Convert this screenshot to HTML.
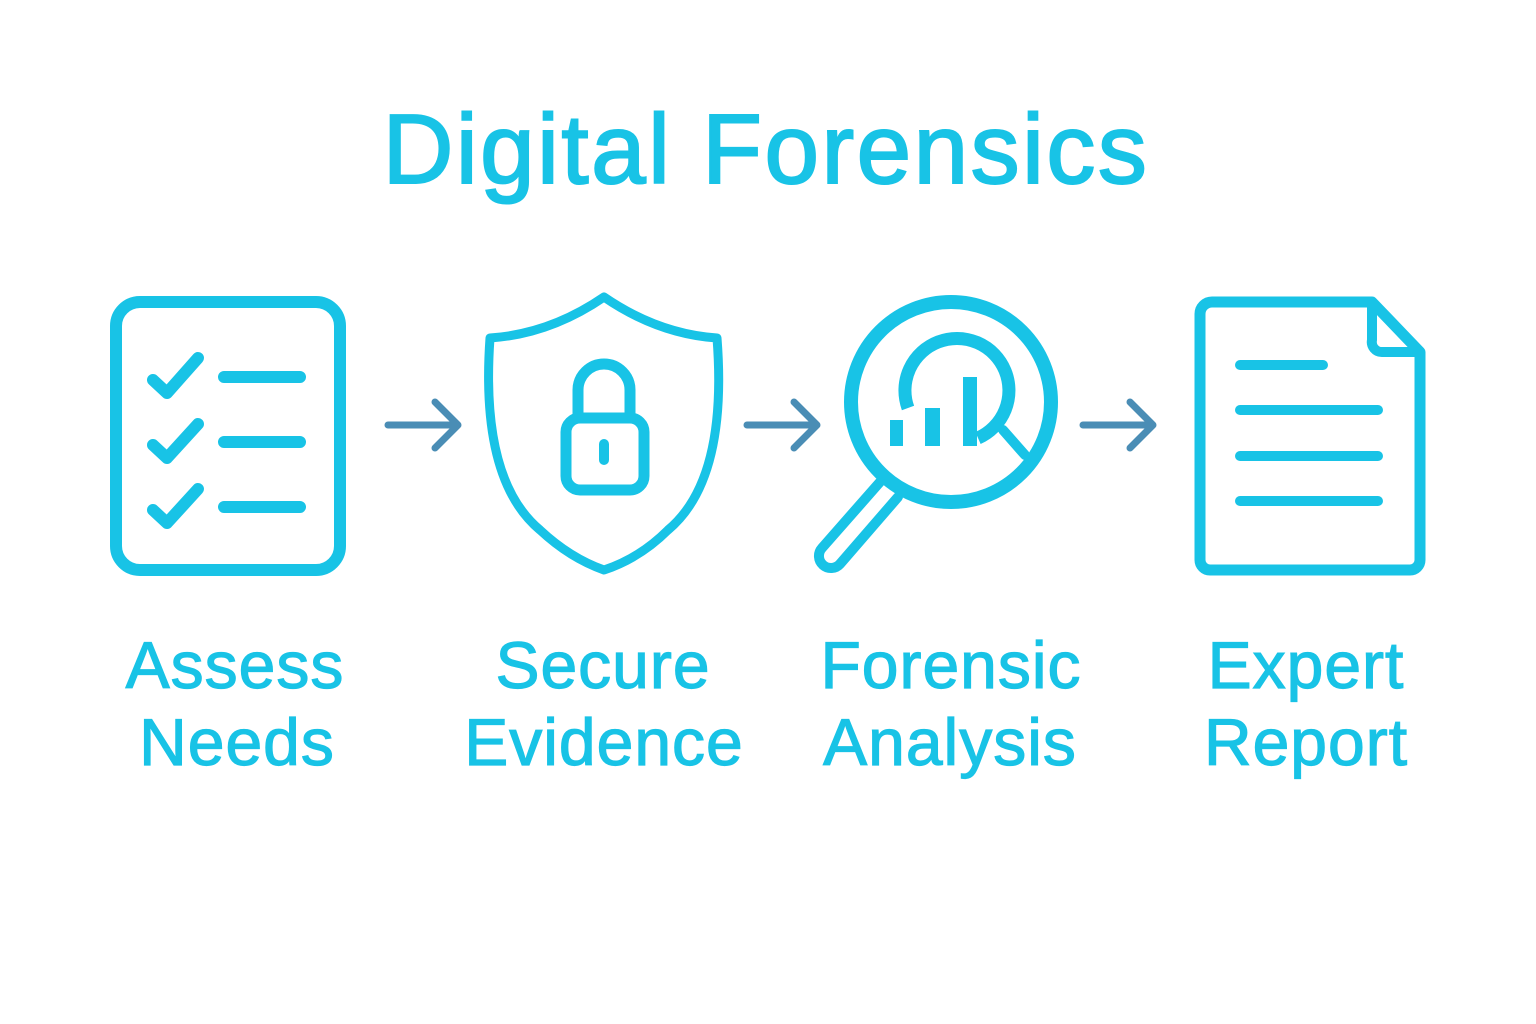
<!DOCTYPE html>
<html><head><meta charset="utf-8"><style>
html,body{margin:0;padding:0;background:#fff;}
svg{display:block;}
text{font-family:"Liberation Sans",sans-serif;fill:#18C3E6;}
</style></head><body>
<svg width="1536" height="1024" viewBox="0 0 1536 1024" xmlns="http://www.w3.org/2000/svg">
<text x="766" y="183" font-size="98" text-anchor="middle" stroke="#18C3E6" stroke-width="2" letter-spacing="2.5">Digital Forensics</text>
<g fill="none" stroke="#18C3E6" stroke-width="12" stroke-linecap="round" stroke-linejoin="round">
 <rect x="116" y="302" width="224" height="268" rx="24"/>
 <path d="M153 380 L167 393 L198 358"/>
 <path d="M153 445 L167 458 L198 424"/>
 <path d="M153 510 L167 523 L198 489"/>
 <path d="M224 377 H300 M224 442 H300 M224 507 H300"/>
 <path d="M604 297 Q550 334 490 338 Q480 480 540 530 Q570 558 604 570 Q640 558 668 530 Q728 480 717 338 Q658 334 604 297 Z" stroke-width="9"/>
 <rect x="566" y="418" width="78" height="72" rx="14" stroke-width="11"/>
 <path d="M578 418 V390 A26 26 0 0 1 630 390 V418" stroke-width="11"/>
 <path d="M604 444 V460" stroke-width="10"/>
 <circle cx="951" cy="402" r="100" stroke-width="14"/>
 <path d="M880 482 L822 548 A12 12 0 0 0 840 564 L898 497" stroke-width="10"/>
 <path d="M1003 430 L1025 455" stroke-width="10"/>
 <path d="M908 408 A52 52 0 1 1 978 438" stroke-width="13" stroke-linecap="butt"/>
 <path d="M1212 302 H1372 L1420 352 V560 A10 10 0 0 1 1410 570 H1210 A10 10 0 0 1 1200 560 V314 A12 12 0 0 1 1212 302 Z" stroke-width="11"/>
 <path d="M1372 306 V340 A10 10 0 0 0 1382 352 H1416" stroke-width="10"/>
 <path d="M1240 365 H1323 M1240 410 H1378 M1240 456 H1378 M1240 501 H1378" stroke-width="10"/>
</g>
<g fill="#18C3E6">
 <rect x="890" y="420" width="13" height="26"/>
 <rect x="925" y="408" width="15" height="38"/>
 <rect x="963" y="377" width="14" height="69"/>
</g>
<g fill="none" stroke="#4A8DB5" stroke-width="7" stroke-linecap="round" stroke-linejoin="round">
 <path d="M388 425 H458 M435 402 L458 425 L435 448"/>
 <path d="M747 425 H817 M794 402 L817 425 L794 448"/>
 <path d="M1083 425 H1153 M1130 402 L1153 425 L1130 448"/>
</g>
<g font-size="66" text-anchor="middle" stroke="#18C3E6" stroke-width="1.2" letter-spacing="1">
 <text x="235" y="688">Assess</text><text x="237" y="765">Needs</text>
 <text x="603" y="688">Secure</text><text x="604" y="765">Evidence</text>
 <text x="951" y="688">Forensic</text><text x="950" y="765">Analysis</text>
 <text x="1306" y="688">Expert</text><text x="1306" y="765">Report</text>
</g>
</svg>
</body></html>
